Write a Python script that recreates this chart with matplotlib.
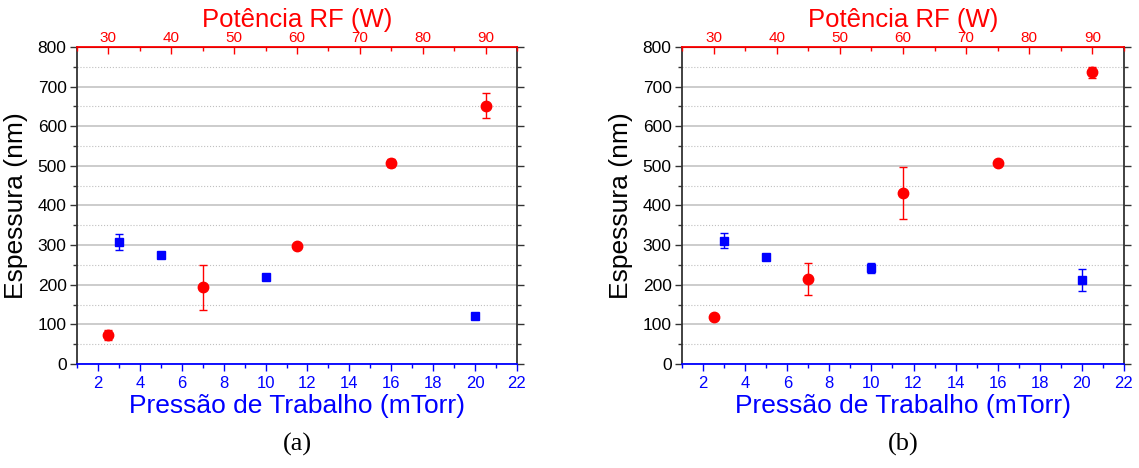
import matplotlib
matplotlib.use("Agg")
import matplotlib.pyplot as plt
from matplotlib.ticker import MultipleLocator

# data
power = [30, 45, 60, 75, 90]            # Potência RF (W)
pressure = [3, 5, 10, 20]               # Pressão de Trabalho (mTorr)

a_power_thk = [73, 194, 297, 507, 652]
a_power_err = [13, 57, 4, 10, 31]
a_press_thk = [307, 275, 220, 122]
a_press_err = [20, 7, 4, 3]

b_power_thk = [119, 215, 432, 507, 736]
b_power_err = [3, 41, 65, 5, 13]
b_press_thk = [311, 269, 242, 212]
b_press_err = [19, 7, 12, 29]

panels = ["(a)", "(b)"]

RED = "#ff0000"
BLUE = "#0000ff"
plt.rcParams['font.family'] = ['Liberation Sans', 'DejaVu Sans']

fig = plt.figure(figsize=(11.39, 4.68), dpi=100)


def draw(rect, pw_thk, pw_err, pr_thk, pr_err, tag):
    ax = fig.add_axes(rect)
    ax.set_xlim(1, 22)
    ax.set_ylim(0, 800)
    ax.xaxis.set_major_locator(MultipleLocator(2))
    ax.xaxis.set_minor_locator(MultipleLocator(1))
    ax.yaxis.set_major_locator(MultipleLocator(100))
    ax.yaxis.set_minor_locator(MultipleLocator(50))
    ax.grid(True, which='major', axis='y', color='#c8c8c8', lw=1.3)
    ax.grid(True, which='minor', axis='y', color='#c0c0c0', lw=0.8, ls=':')
    ax.set_axisbelow(True)

    ax.spines['bottom'].set_color(BLUE)
    ax.spines['bottom'].set_linewidth(1.3)
    ax.spines['left'].set_color('#333333')
    ax.spines['right'].set_color('#333333')
    ax.spines['left'].set_linewidth(1.3)
    ax.spines['right'].set_linewidth(1.3)
    ax.tick_params(axis='x', which='both', colors=BLUE, direction='out', labelsize=12)
    ax.tick_params(axis='x', which='major', length=5, width=1)
    ax.tick_params(axis='x', which='minor', length=3, width=1)
    ax.tick_params(axis='y', which='both', colors='#333333', labelcolor='black',
                   direction='out', labelsize=12.5, right=True, pad=2.5)
    ax.tick_params(axis='y', which='major', length=5, width=1)
    ax.tick_params(axis='y', which='minor', length=3, width=1)
    ax.set_xlabel('Pressão de Trabalho (mTorr)', color=BLUE, fontsize=19, labelpad=2)
    ax.set_ylabel('Espessura (nm)', fontsize=19, labelpad=7)

    ax.errorbar(pressure, pr_thk, yerr=pr_err, fmt='s', color=BLUE, ms=6,
                elinewidth=1, capsize=3, capthick=1, zorder=3)

    top = ax.twiny()
    top.set_xlim(25, 95)
    top.xaxis.set_major_locator(MultipleLocator(10))
    top.xaxis.set_minor_locator(MultipleLocator(5))
    top.spines['top'].set_color(RED)
    top.spines['top'].set_linewidth(1.3)
    for s in ['left', 'right', 'bottom']:
        top.spines[s].set_visible(False)
    top.tick_params(axis='x', which='both', colors=RED, direction='in', labelsize=11, pad=1.5)
    top.tick_params(axis='x', which='major', length=5, width=1)
    top.tick_params(axis='x', which='minor', length=3, width=1)
    top.set_xlabel('Potência RF (W)', color=RED, fontsize=18.5, labelpad=3)
    top.errorbar(power, pw_thk, yerr=pw_err, fmt='o', color=RED, ms=7.5,
                 elinewidth=1, capsize=3, capthick=1, zorder=3)

    x0, y0, w, h = rect
    fig.text(x0 + w / 2, 0.025, tag, ha='center', va='bottom',
             family=['Liberation Serif', 'DejaVu Serif'], fontsize=19)


draw([0.0676, 0.2222, 0.3863, 0.6774], a_power_thk, a_power_err, a_press_thk, a_press_err, panels[0])
draw([0.5988, 0.2222, 0.3880, 0.6774], b_power_thk, b_power_err, b_press_thk, b_press_err, panels[1])

fig.savefig('out.png', dpi=100)
